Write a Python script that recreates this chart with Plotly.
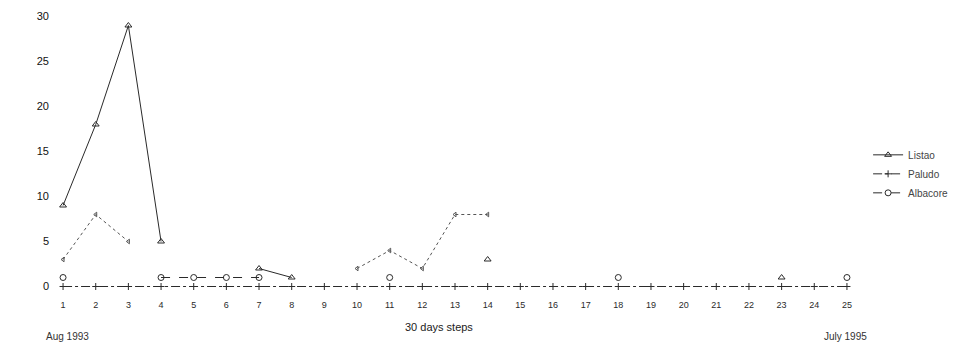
import plotly.graph_objects as go

steps = list(range(1, 26))
tick_labels = [str(s) for s in steps]

# Listao (solid line, open triangles); None = not drawn
listao = [9, 18, 29, 5, None, None, 2, 1, None, None, None, None, None, 3,
          None, None, None, None, None, None, None, None, 1, None, None]
# Paludo (dash-dot, plus markers) along zero
paludo = [0] * 25
# Albacore (dashed, open circles)
albacore = [1, None, None, 1, 1, 1, 1, None, None, None, 1, None, None, None,
            None, None, None, 1, None, None, None, None, None, None, 1]
# Upper dotted series (unlabelled in legend)
dotted = [3, 8, 5, None, None, None, None, None, None, 2, 4, 2, 8, 8,
          None, None, None, None, None, None, None, None, None, None, None]

ink = "#2a2a2a"
font = "Liberation Sans, Arial, sans-serif"

fig = go.Figure()
fig.add_trace(go.Scatter(
    x=steps, y=dotted, mode="lines+markers", showlegend=False,
    line=dict(color="#555", width=1, dash="dot"),
    marker=dict(symbol="triangle-left-open", size=4, color="#555"),
    connectgaps=False, hoverinfo="skip"))
fig.add_trace(go.Scatter(
    x=steps, y=listao, mode="lines+markers", name="Listao",
    line=dict(color=ink, width=1),
    marker=dict(symbol="triangle-up-open", size=6, color=ink, line=dict(width=1)),
    connectgaps=False))
fig.add_trace(go.Scatter(
    x=steps, y=paludo, mode="lines+markers", name="Paludo",
    line=dict(color=ink, width=1, dash="dashdot"),
    marker=dict(symbol="cross-thin-open", size=5, color=ink, line=dict(width=1, color=ink))))
fig.add_trace(go.Scatter(
    x=steps, y=albacore, mode="lines+markers", name="Albacore",
    line=dict(color=ink, width=1, dash="dash"),
    marker=dict(symbol="circle-open", size=6, color=ink, line=dict(width=1)),
    connectgaps=False))

fig.update_layout(
    width=974, height=348,
    margin=dict(l=50, r=114, t=10, b=57),
    paper_bgcolor="white", plot_bgcolor="white",
    font=dict(family=font, color=ink, size=11),
    showlegend=True,
    legend=dict(x=1.01, y=0.54, xanchor="left", yanchor="top",
                font=dict(size=10, color="#444"), bgcolor="rgba(0,0,0,0)",
                itemwidth=30, tracegroupgap=0),
    xaxis=dict(range=[0.6, 25.4], tickmode="array", tickvals=steps,
               ticktext=tick_labels, showgrid=False, zeroline=False,
               showline=False, ticks="", ticklabelstandoff=7,
               tickfont=dict(size=9, color=ink)),
    yaxis=dict(range=[-0.5, 30.5], tickvals=[0, 5, 10, 15, 20, 25, 30],
               showgrid=False, zeroline=False, showline=False, ticks="",
               tickfont=dict(size=11, color="#111")),
    annotations=[
        dict(text="Aug 1993", x=1.15, xref="x", y=-0.162, yref="paper",
             showarrow=False, font=dict(size=10, color="#333"), yanchor="middle"),
        dict(text="July 1995", x=24.95, xref="x", y=-0.162, yref="paper",
             showarrow=False, font=dict(size=10, color="#333"), yanchor="middle"),
        dict(text="30 days steps", x=12.5, xref="x", y=-0.13, yref="paper",
             showarrow=False, font=dict(size=11, color="#222"), yanchor="middle"),
    ],
)

fig.write_html("out.html", config={"displayModeBar": False},
               post_script="document.body.style.margin='0px';")
